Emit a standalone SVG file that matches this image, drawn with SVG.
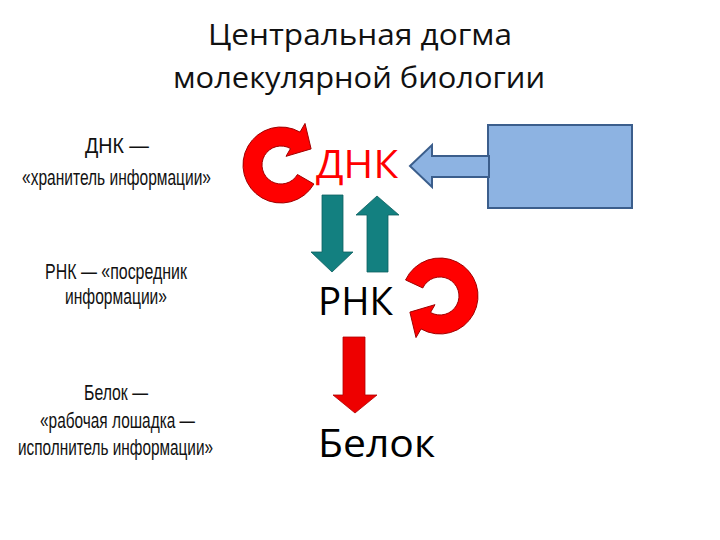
<svg xmlns="http://www.w3.org/2000/svg" width="720" height="540" viewBox="0 0 720 540">
<style>
.title{font-family:"Open Sans","Liberation Sans",sans-serif;font-size:30px;fill:#111;text-anchor:start}
.main{font-family:"Open Sans","Liberation Sans",sans-serif;font-size:39px;fill:#000}
.side{font-family:"Liberation Sans",Arial,sans-serif;font-size:22px;fill:#111}
.ring{fill:#ff0000;stroke:#a00000;stroke-width:1}
.teal{fill:#138080;stroke:#0c6060;stroke-width:0.8}
.redarrow{fill:#ee0000;stroke:#b00000;stroke-width:0.8}
.blue{fill:#8db3e2;stroke:#3b5e8c;stroke-width:2}
</style>
<rect width="720" height="540" fill="#fff"/>
<g id="title">
<text class="title" x="208" y="45" textLength="304" lengthAdjust="spacingAndGlyphs">Центральная догма</text>
<text class="title" x="173" y="88" textLength="372" lengthAdjust="spacingAndGlyphs">молекулярной биологии</text>
</g>
<g id="side-labels">
<text class="side" x="85" y="153" textLength="64" lengthAdjust="spacingAndGlyphs">ДНК —</text>
<text class="side" x="22" y="185" textLength="189" lengthAdjust="spacingAndGlyphs">«хранитель информации»</text>
<text class="side" x="45" y="279" textLength="142" lengthAdjust="spacingAndGlyphs">РНК —  «посредник</text>
<text class="side" x="65" y="304" textLength="102" lengthAdjust="spacingAndGlyphs">информации»</text>
<text class="side" x="84" y="400" textLength="64" lengthAdjust="spacingAndGlyphs">Белок —</text>
<text class="side" x="40" y="428" textLength="155" lengthAdjust="spacingAndGlyphs">«рабочая лошадка —</text>
<text class="side" x="18" y="455" textLength="195" lengthAdjust="spacingAndGlyphs">исполнитель информации»</text>
</g>
<g id="node-dna">
<text class="main" x="316" y="178" style="fill:#ff0000" textLength="82" lengthAdjust="spacingAndGlyphs">ДНК</text>
</g>
<g id="node-rna">
<text class="main" x="318" y="315" textLength="75" lengthAdjust="spacingAndGlyphs">РНК</text>
</g>
<g id="node-protein">
<text class="main" x="318" y="457" textLength="117" lengthAdjust="spacingAndGlyphs">Белок</text>
</g>
<g id="node-box">
<rect class="blue" x="488" y="125" width="144" height="83"/>
</g>
<g id="connectors">
<path class="ring" d="M313.91,184 A38,38 0 1 1 300,132.09 L305,123.43 L311.1,148.9 L286,156.34 L290.5,148.55 A19,19 0 1 0 297.45,174.5 Z"/>
<path class="ring" d="M405.56,279.94 A38,38 0 1 1 421,328.91 L416,337.57 L409.9,312.11 L435,304.66 L430.5,312.45 A19,19 0 1 0 422.78,287.97 Z"/>
<polygon class="teal" points="322,195 343,195 343,252 353,252 332,272 311,252 322,252"/>
<polygon class="teal" points="367,272 388,272 388,215 399,215 377,196 356,215 367,215"/>
<polygon class="redarrow" points="343,337 365,337 365,395 377,395 355,413 333,395 343,395"/>
<polygon class="blue" points="410,166 432,145 432,156 489,156 489,177 432,177 432,187"/>
</g>
</svg>
